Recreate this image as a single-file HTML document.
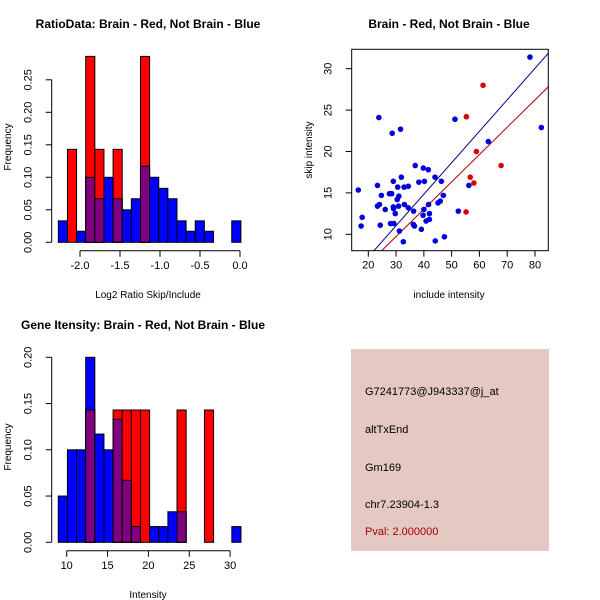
<!DOCTYPE html>
<html><head><meta charset="utf-8"><style>
body{margin:0;background:#fff}
svg{display:block;font-family:"Liberation Sans",Arial,sans-serif}
</style></head><body>
<svg id="c" width="600" height="600" viewBox="0 0 600 600">
<rect width="600" height="600" fill="#fff"/>
<g id="p1"></g>
<g id="p2"></g>
<g id="p3"></g>
<g>
<rect x="351" y="349" width="198" height="202" fill="#e6c8c2"/>
<text x="365" y="395" font-size="11" fill="#000">G7241773@J943337@j_at</text>
<text x="365" y="433" font-size="11" fill="#000">altTxEnd</text>
<text x="365" y="471" font-size="11" fill="#000">Gm169</text>
<text x="365" y="508" font-size="11" fill="#000">chr7.23904-1.3</text>
<text x="365" y="535" font-size="11" fill="#a00000">Pval: 2.000000</text>
</g>
</svg>
<script>
// ---- Panel 1 data: ratio histogram ----
const ratioBinStart = -2.271;
const ratioBinWidth = 0.1141;
const ratioBlue = [0.033,0,0.017,0.10,0.067,0.10,0.067,0.05,0.067,0.117,0.10,0.083,0.067,0.033,0.017,0.033,0.017,0,0,0.033];
const ratioRed  = [0,0.143,0,0.286,0.143,0,0.143,0,0,0.286,0,0,0,0,0,0,0,0,0,0];
const ratioXTicks = [-2.0,-1.5,-1.0,-0.5,0.0];
const ratioXLabels = ["-2.0","-1.5","-1.0","-0.5","0.0"];
const ratioYTicks = [0,0.05,0.10,0.15,0.20,0.25];
const ratioYLabels = ["0.00","0.05","0.10","0.15","0.20","0.25"];
// ---- Panel 2 data: scatter ----
const blueX = [16.4,17.8,17.4,23.8,31.6,28.6,23.3,24.7,24.0,23.3,26.1,24.3,27.6,28.4,29.0,29.0,29.1,29.7,28.0,29.2,30.4,31.0,30.6,30.9,31.2,31.9,32.9,33.0,34.4,34.4,32.6,36.3,36.2,36.6,36.9,38.2,39.8,40.2,41.6,40.0,39.7,41.7,42.0,42.0,40.8,39.1,44.0,46.3,47.0,45.1,45.9,47.4,44.1,51.2,52.4,56.2,63.2,78.2,82.3];
const blueY = [15.35,12.05,11.0,24.1,22.7,22.2,15.9,14.7,13.6,13.4,13.0,11.1,14.9,14.9,16.4,13.3,13.1,12.5,11.3,11.3,14.2,14.6,15.7,13.4,10.4,16.9,15.7,13.6,15.8,13.2,9.1,12.8,11.2,11.0,18.3,16.3,18.0,16.4,17.8,13.0,12.3,13.6,12.5,11.8,11.6,10.6,16.9,16.4,14.7,13.8,14.0,9.7,9.2,23.9,12.8,15.9,21.2,31.4,22.9];
const redX = [61.3,55.3,58.9,67.8,56.7,58.0,55.2];
const redY = [28.0,24.2,20.0,18.3,16.9,16.2,12.7];
const blueFit = [0.38,-0.36];
const redFit = [0.33,-0.17];
const scatXTicks = [20,30,40,50,60,70,80];
const scatYTicks = [10,15,20,25,30];
// ---- Panel 3 data: intensity histogram ----
const intBinStart = 8.97;
const intBinWidth = 1.118;
const intBlue = [0.05,0.10,0.10,0.20,0.117,0.10,0.133,0.067,0.017,0,0.017,0.017,0.033,0.033,0,0,0,0,0,0.017];
const intRed  = [0,0,0,0.143,0,0,0.143,0.143,0.143,0.143,0,0,0,0.143,0,0,0.143,0,0,0];
const intXTicks = [10,15,20,25,30];
const intYTicks = [0,0.05,0.10,0.15,0.20];
const intYLabels = ["0.00","0.05","0.10","0.15","0.20"];

const NS="http://www.w3.org/2000/svg";
function mk(parent,tag,attrs,text){const e=document.createElementNS(NS,tag);for(const k in attrs)e.setAttribute(k,attrs[k]);if(text!==undefined)e.textContent=text;parent.appendChild(e);return e;}

function histogram(g,cfg){
  const sx=v=>cfg.x0px+(v-cfg.x0)*cfg.xs, sy=v=>cfg.y0px-v*cfg.ys;
  cfg.blue.forEach((b,i)=>{
    const xl=sx(cfg.start+i*cfg.width), xr=sx(cfg.start+(i+1)*cfg.width);
    const r=cfg.red[i];
    if(b>0){const e=mk(g,'rect',{x:xl,y:sy(b),width:xr-xl,height:sy(0)-sy(b),fill:'#0000ff',stroke:'#000','stroke-width':1});
      
      }
    if(r>0){const e=mk(g,'rect',{x:xl,y:sy(r),width:xr-xl,height:sy(0)-sy(r),fill:'#ff0000',stroke:'#000','stroke-width':1});
      
      }
    const m=Math.min(b,r);
    if(m>0){const e=mk(g,'rect',{x:xl,y:sy(m),width:xr-xl,height:sy(0)-sy(m),fill:'#7f007f',stroke:'#000','stroke-width':1});
      
      }
  });
  const xa=mk(g,'g',{});
  
  
  const ay=cfg.y0px+8.5;
  mk(xa,'line',{x1:sx(cfg.xt[0]),x2:sx(cfg.xt[cfg.xt.length-1]),y1:ay,y2:ay,stroke:'#000'});
  cfg.xt.forEach((t,i)=>{mk(xa,'line',{x1:sx(t),x2:sx(t),y1:ay,y2:ay+6,stroke:'#000'});
    const tx=mk(xa,'text',{x:sx(t),y:ay+18,'font-size':11,'text-anchor':'middle'},cfg.xl[i]);
    
    });
  const ya=mk(g,'g',{});
  
  
  const ax=cfg.axX;
  mk(ya,'line',{x1:ax,x2:ax,y1:sy(cfg.yt[0]),y2:sy(cfg.yt[cfg.yt.length-1]),stroke:'#000'});
  cfg.yt.forEach((t,i)=>{mk(ya,'line',{x1:ax-6,x2:ax,y1:sy(t),y2:sy(t),stroke:'#000'});
    const tx=mk(ya,'text',{x:0,y:0,'font-size':11,'text-anchor':'middle',transform:`translate(${ax-20},${sy(t)}) rotate(-90)`},cfg.yl[i]);
    
    });
  const yt=mk(g,'text',{x:0,y:0,'font-size':10,'text-anchor':'middle',transform:`translate(${cfg.yTitleX},${cfg.yTitleY}) rotate(-90)`},'Frequency');
  
  
  const xt=mk(g,'text',{x:cfg.xTitleX,y:cfg.xTitleY,'font-size':10,'text-anchor':'middle'},cfg.xTitle);
  
  
  const tt=mk(g,'text',{x:cfg.titleX,y:cfg.titleY,'font-size':12,'font-weight':'bold','text-anchor':'middle'},cfg.title);
  
  
}

histogram(document.getElementById('p1'),{x0:-2,x0px:80,xs:80,y0px:242.3,ys:650,start:ratioBinStart,width:ratioBinWidth,
  blue:ratioBlue,red:ratioRed,xt:ratioXTicks,xl:ratioXLabels,yt:ratioYTicks,yl:ratioYLabels,axX:51.7,
  yTitleX:11,yTitleY:147,xTitleX:148,xTitleY:298,xTitle:'Log2 Ratio Skip/Include',titleX:148,titleY:28,
  title:'RatioData: Brain - Red, Not Brain - Blue'});
histogram(document.getElementById('p3'),{x0:10,x0px:66.7,xs:8.17,y0px:542.3,ys:925,start:intBinStart,width:intBinWidth,
  blue:intBlue,red:intRed,xt:intXTicks,xl:intXTicks.map(String),yt:intYTicks,yl:intYLabels,axX:51.7,
  yTitleX:11,yTitleY:447,xTitleX:148,xTitleY:598,xTitle:'Intensity',titleX:143,titleY:329,
  title:'Gene Itensity: Brain - Red, Not Brain - Blue'});

(function(){
  const g=document.getElementById('p2');
  const L=351.7,R=548.3,T=49.3,B=250.7;
  const sx=v=>368.3+(v-20)*2.778, sy=v=>234.3-(v-10)*8.28;
  const cp=mk(g,'clipPath',{id:'clip2'});mk(cp,'rect',{x:L,y:T,width:R-L,height:B-T});
  const pts=mk(g,'g',{'clip-path':'url(#clip2)'});
  [[blueFit,'#00008b'],[redFit,'#b00000']].forEach(([f,c],k)=>{
    const xa=10,xb=90;
    const ln=mk(pts,'line',{x1:sx(xa),y1:sy(f[0]*xa+f[1]),x2:sx(xb),y2:sy(f[0]*xb+f[1]),stroke:c,'stroke-width':1});
    
    
  });
  blueX.forEach((x,i)=>{const c=mk(pts,'circle',{cx:sx(x),cy:sy(blueY[i]),r:2.8,fill:'#0000dd'});
    
    });
  redX.forEach((x,i)=>{const c=mk(pts,'circle',{cx:sx(x),cy:sy(redY[i]),r:2.8,fill:'#dd0000'});
    
    });
  const fr=mk(g,'rect',{x:L,y:T,width:R-L,height:B-T,fill:'none',stroke:'#000'});
  
  
  scatXTicks.forEach(t=>{mk(g,'line',{x1:sx(t),x2:sx(t),y1:B,y2:B+6,stroke:'#000'});
    const tx=mk(g,'text',{x:sx(t),y:B+18,'font-size':11,'text-anchor':'middle'},String(t));
    
    });
  scatYTicks.forEach(t=>{mk(g,'line',{x1:L-6,x2:L,y1:sy(t),y2:sy(t),stroke:'#000'});
    const tx=mk(g,'text',{x:0,y:0,'font-size':11,'text-anchor':'middle',transform:`translate(${L-20},${sy(t)}) rotate(-90)`},String(t));
    
    });
  const xt=mk(g,'text',{x:449,y:298,'font-size':10,'text-anchor':'middle'},'include intensity');
  
  
  const yt=mk(g,'text',{x:0,y:0,'font-size':10,'text-anchor':'middle',transform:'translate(312,150) rotate(-90)'},'skip intensity');
  
  
  const tt=mk(g,'text',{x:449,y:28,'font-size':12,'font-weight':'bold','text-anchor':'middle'},'Brain - Red, Not Brain - Blue');
  
  
})();
</script>
</body></html>
